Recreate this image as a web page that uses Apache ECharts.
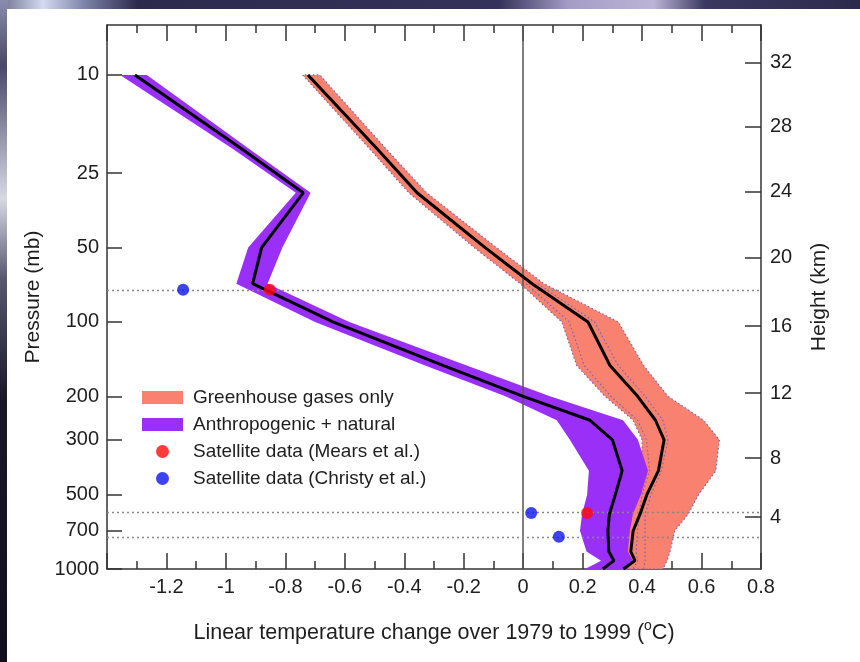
<!DOCTYPE html>
<html>
<head>
<meta charset="utf-8">
<script src="https://cdn.jsdelivr.net/npm/echarts@6/dist/echarts.min.js"></script>
<style>
  html, body { margin: 0; padding: 0; background: #262443; }
  #chart { width: 860px; height: 662px; }
</style>
</head>
<body>
<div id="chart"></div>
<script>
// Model pressure levels (mb)
const pressureLevels = [10, 20, 30, 50, 70, 100, 150, 200, 250, 300, 400, 500, 600, 700, 850, 925, 1000];

// Greenhouse gases only: ensemble mean and range (deg C)
const ghgMean = [-0.724, -0.49, -0.357, -0.128, 0.03, 0.218, 0.292, 0.385, 0.445, 0.474, 0.455, 0.416, 0.393, 0.37, 0.362, 0.376, 0.337];
const ghgLow  = [-0.742, -0.515, -0.385, -0.165, -0.01, 0.13, 0.18, 0.275, 0.37, 0.40, 0.40, 0.37, 0.34, 0.33, 0.32, 0.33, 0.30];
const ghgHigh = [-0.684, -0.46, -0.325, -0.09, 0.07, 0.32, 0.405, 0.487, 0.607, 0.66, 0.648, 0.59, 0.555, 0.51, 0.494, 0.484, 0.47];

// Greenhouse gases only: inner spread (dotted), troposphere and lower stratosphere
const ghgInnerLevels = [70, 100, 150, 200, 250, 300, 400, 500, 600, 700, 850, 925, 1000];
const ghgInnerLow  = [0.01, 0.155, 0.205, 0.295, 0.385, 0.415, 0.425, 0.40, 0.39, 0.385, 0.38, 0.385, 0.37];
const ghgInnerHigh = [0.05, 0.24, 0.32, 0.41, 0.47, 0.487, 0.465, 0.43, 0.41, 0.41, 0.41, 0.41, 0.405];

// Anthropogenic + natural: ensemble mean and range (deg C)
const allMean = [-1.306, -0.945, -0.74, -0.88, -0.91, -0.64, -0.27, 0.0, 0.225, 0.30, 0.333, 0.31, 0.29, 0.285, 0.288, 0.305, 0.268];
const allLow  = [-1.356, -0.975, -0.765, -0.925, -0.965, -0.70, -0.33, -0.06, 0.113, 0.157, 0.221, 0.215, 0.198, 0.191, 0.213, 0.262, 0.208];
const allHigh = [-1.266, -0.92, -0.715, -0.81, -0.86, -0.585, -0.19, 0.09, 0.336, 0.386, 0.42, 0.396, 0.369, 0.359, 0.352, 0.369, 0.352];

// Satellite trends: [trend, effective pressure level]
const mearsData = [[-0.852, 74], [0.215, 593]];
const christyData = [[-1.144, 74], [0.027, 593], [0.12, 741]];
const satelliteLevels = [74, 593, 741];

// Axis ticks
const pressureTicks = [10, 25, 50, 100, 200, 300, 500, 700, 1000];
const heightTicks = [4, 8, 12, 16, 20, 24, 28, 32];
const heightTickPressure = [616, 356, 194, 104, 55, 29.7, 16.2, 8.9];
const tempMin = -1.4, tempMax = 0.8, tempStep = 0.2;
const pressureTop = 6.28, pressureBottom = 1000;

const FONT = '"Liberation Sans", Arial, Helvetica, sans-serif';
const INK = '#1e1e1e';
const FRAME = '#333';
const SALMON = '#F8826F';
const PURPLE = '#9A30F8';
const DOTS = '#7d62b4';

const lp = v => Math.log10(v);
const profile = (xs, levels = pressureLevels) => levels.map((p, i) => [xs[i], lp(p)]);

function band(name, low, high, color, z, outline) {
  return {
    name, type: 'custom', z,
    itemStyle: { color },
    data: [[low[0], lp(pressureLevels[0])]],
    encode: { x: 0, y: 1 },
    silent: true,
    renderItem(params, api) {
      const pts = [];
      pressureLevels.forEach((p, i) => pts.push(api.coord([low[i], lp(p)])));
      for (let i = pressureLevels.length - 1; i >= 0; i--) {
        pts.push(api.coord([high[i], lp(pressureLevels[i])]));
      }
      const style = { fill: color };
      if (outline) Object.assign(style, { stroke: DOTS, lineWidth: 1.2, lineDash: [1.5, 2.5] });
      return { type: 'polygon', shape: { points: pts }, style };
    }
  };
}

function meanLine(values, z) {
  return {
    type: 'line', z, data: profile(values), symbol: 'none', silent: true,
    lineStyle: { color: '#000', width: 3 }
  };
}

function dottedLine(values, levels, z) {
  return {
    type: 'line', z, data: profile(values, levels), symbol: 'none', silent: true,
    lineStyle: { color: DOTS, width: 1.2, type: [1.5, 2.5] }
  };
}

const heightLabelFor = v => {
  let best = 0, d = Infinity;
  heightTickPressure.forEach((p, i) => {
    const dd = Math.abs(lp(p) - v);
    if (dd < d) { d = dd; best = i; }
  });
  return String(heightTicks[best]);
};

const tickLabel = v => Math.abs(v - tempMin) < 1e-6 ? '' : String(+v.toFixed(1));

const chart = echarts.init(document.getElementById('chart'), null, { renderer: 'canvas' });

const xCommon = {
  type: 'value', min: tempMin, max: tempMax, interval: tempStep,
  axisLine: { onZero: false, lineStyle: { color: FRAME, width: 1.5 } },
  axisTick: { inside: true, length: 16, lineStyle: { color: FRAME, width: 1.5 } },
  minorTick: { show: true, splitNumber: 2, length: 8, lineStyle: { color: FRAME, width: 1.5 } },
  splitLine: { show: false }, minorSplitLine: { show: false }
};
const yCommon = {
  type: 'value', inverse: true, min: lp(pressureTop), max: lp(pressureBottom),
  axisLine: { onZero: false, lineStyle: { color: FRAME, width: 1.5 } },
  splitLine: { show: false }
};

chart.setOption({
  backgroundColor: '#262443',
  animation: false,
  textStyle: { fontFamily: FONT },
  graphic: [
    { type: 'rect', z: -20, shape: { x: 0, y: 0, width: 860, height: 10 },
      style: { fill: new echarts.graphic.LinearGradient(0, 0, 1, 0, [
        { offset: 0, color: '#6c7090' }, { offset: 0.05, color: '#d4daf0' }, { offset: 0.1, color: '#7a80a6' },
        { offset: 0.16, color: '#2c2a4c' }, { offset: 0.58, color: '#34325a' }, { offset: 0.66, color: '#a49cc6' },
        { offset: 0.76, color: '#bcb4d6' }, { offset: 0.82, color: '#3a3860' }, { offset: 1, color: '#2c2a4c' }]) } },
    { type: 'rect', z: -20, shape: { x: 0, y: 0, width: 8, height: 662 },
      style: { fill: new echarts.graphic.LinearGradient(0, 0, 0, 1, [
        { offset: 0, color: '#8a8cae' }, { offset: 0.1, color: '#4a4868' }, { offset: 0.3, color: '#d8d8e4' },
        { offset: 0.42, color: '#5a5870' }, { offset: 0.6, color: '#1a1828' }, { offset: 1, color: '#100e1c' }]) } },
    { type: 'rect', z: -10, shape: { x: 7, y: 9, width: 853, height: 653 }, style: { fill: '#fff' } }
  ],
  grid: { left: 107, right: 99, top: 25, bottom: 93 },
  legend: {
    orient: 'vertical', left: 137, top: 383,
    itemWidth: 41, itemHeight: 13, itemGap: 8,
    textStyle: { fontSize: 19, lineHeight: 19, color: INK, fontFamily: FONT, padding: [0, 0, 0, 5] },
    selectedMode: false,
    data: [
      { name: 'Greenhouse gases only', icon: 'rect' },
      { name: 'Anthropogenic + natural', icon: 'rect' },
      { name: 'Satellite data (Mears et al.)', icon: 'circle' },
      { name: 'Satellite data (Christy et al.)', icon: 'circle' }
    ]
  },
  xAxis: [
    Object.assign({}, xCommon, {
      position: 'bottom',
      axisLabel: { formatter: tickLabel, fontSize: 20, color: INK, margin: 8, fontFamily: FONT },
      name: 'Linear temperature change over 1979 to 1999 ({sup|o}C)',
      nameLocation: 'middle', nameGap: 50,
      nameTextStyle: {
        fontSize: 21.5, color: INK, fontFamily: FONT, lineHeight: 28,
        rich: { sup: { fontSize: 14, color: INK, fontFamily: FONT, verticalAlign: 'top', lineHeight: 15 } }
      }
    }),
    Object.assign({}, xCommon, { position: 'top', axisLabel: { show: false } })
  ],
  yAxis: [
    Object.assign({}, yCommon, {
      position: 'left',
      axisTick: { inside: true, length: 15, customValues: pressureTicks.map(lp), lineStyle: { color: FRAME, width: 1.5 } },
      axisLabel: { customValues: pressureTicks.map(lp), formatter: v => String(Math.round(Math.pow(10, v))),
        fontSize: 20, color: INK, margin: 8, fontFamily: FONT },
      name: 'Pressure (mb)', nameLocation: 'middle', nameGap: 52,
      nameTextStyle: { fontSize: 21, color: INK, fontFamily: FONT }
    }),
    Object.assign({}, yCommon, {
      position: 'right',
      axisTick: { inside: true, length: 16, customValues: heightTickPressure.map(lp), lineStyle: { color: FRAME, width: 1.5 } },
      axisLabel: { customValues: heightTickPressure.map(lp), formatter: heightLabelFor,
        fontSize: 20, color: INK, margin: 9, fontFamily: FONT },
      name: 'Height (km)', nameLocation: 'middle', nameGap: 48,
      nameTextStyle: { fontSize: 21, color: INK, fontFamily: FONT }
    })
  ],
  series: [
    band('Greenhouse gases only', ghgLow, ghgHigh, SALMON, 2, true),
    band('Anthropogenic + natural', allLow, allHigh, PURPLE, 3, false),
    dottedLine(ghgInnerLow, ghgInnerLevels, 4),
    dottedLine(ghgInnerHigh, ghgInnerLevels, 4),
    {
      // reference lines: zero trend and satellite weighting levels
      type: 'line', data: [], z: 4, silent: true,
      markLine: {
        silent: true, symbol: ['none', 'none'], label: { show: false },
        data: [
          { xAxis: 0, lineStyle: { type: 'solid', color: '#555', width: 1.5 } },
          ...satelliteLevels.map(p => ({ yAxis: lp(p), lineStyle: { type: [2, 3], color: '#888', width: 1.3 } }))
        ]
      }
    },
    meanLine(ghgMean, 5),
    meanLine(allMean, 5),
    {
      name: 'Satellite data (Mears et al.)', type: 'scatter', z: 6, symbolSize: 12,
      itemStyle: { color: '#FF0A0A' },
      data: mearsData.map(d => [d[0], lp(d[1])])
    },
    {
      name: 'Satellite data (Christy et al.)', type: 'scatter', z: 6, symbolSize: 12,
      itemStyle: { color: '#0A14F0' },
      data: christyData.map(d => [d[0], lp(d[1])])
    }
  ]
});
</script>
</body>
</html>
